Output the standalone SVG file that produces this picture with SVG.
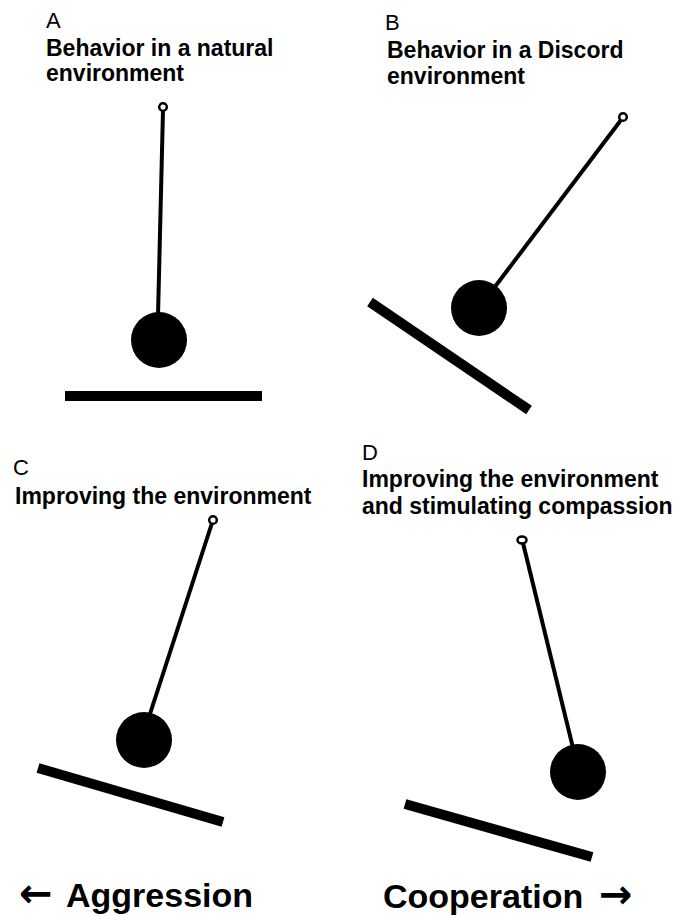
<svg xmlns="http://www.w3.org/2000/svg" width="673" height="916" viewBox="0 0 673 916">
<style>
.letter{font-family:"Liberation Sans",Arial,sans-serif;font-size:22px;fill:#000}
.cap{font-family:"Liberation Sans",Arial,sans-serif;font-size:23px;font-weight:bold;fill:#000}
.axis{font-family:"Liberation Sans",Arial,sans-serif;font-size:34px;font-weight:bold;fill:#000}
.arr{font-family:"DejaVu Sans",sans-serif;font-weight:bold;font-size:40px}
.rod{stroke:#000;stroke-width:4;fill:none}
.pivot{stroke:#000;stroke-width:2.5;fill:#fff}
.ball{fill:#000}
.base{stroke:#000;stroke-width:10;stroke-linecap:butt}
</style>
<rect width="673" height="916" fill="#fff"/>
<g id="panel-a">
<text class="letter" x="46" y="28">A</text>
<text class="cap" x="46" y="56">Behavior in a natural</text>
<text class="cap" x="46" y="81">environment</text>
<line class="rod" x1="163" y1="110" x2="158" y2="316"/>
<circle class="ball" cx="159" cy="340" r="28"/>
<circle class="pivot" cx="163" cy="107" r="3.8"/>
<line class="base" x1="65" y1="396" x2="262" y2="396"/>
</g>
<g id="panel-b">
<text class="letter" x="385" y="30">B</text>
<text class="cap" x="387" y="58">Behavior in a Discord</text>
<text class="cap" x="387" y="84">environment</text>
<line class="rod" x1="621" y1="120" x2="491" y2="292"/>
<circle class="ball" cx="479" cy="308" r="28"/>
<circle class="pivot" cx="623" cy="117" r="3.8"/>
<line class="base" x1="370" y1="302" x2="529" y2="410"/>
</g>
<g id="panel-c">
<text class="letter" x="13" y="475">C</text>
<text class="cap" x="15" y="504">Improving the environment</text>
<line class="rod" x1="212" y1="523" x2="148" y2="720"/>
<circle class="ball" cx="144" cy="740" r="28"/>
<circle class="pivot" cx="213" cy="520" r="3.8"/>
<line class="base" x1="38" y1="768" x2="223" y2="822"/>
</g>
<g id="panel-d">
<text class="letter" x="362" y="460">D</text>
<text class="cap" x="362" y="487">Improving the environment</text>
<text class="cap" x="362" y="514">and stimulating compassion</text>
<line class="rod" x1="523" y1="543" x2="574" y2="752"/>
<circle class="ball" cx="578" cy="772" r="28"/>
<ellipse class="pivot" cx="522" cy="540" rx="4.5" ry="3.5"/>
<line class="base" x1="405" y1="804" x2="592" y2="857"/>
</g>
<g id="axis">
<text class="axis" y="907"><tspan class="arr" x="19">← </tspan><tspan x="66">Aggression</tspan></text>
<text class="axis" y="908"><tspan x="383">Cooperation </tspan><tspan class="arr" x="599">→</tspan></text>
</g>
</svg>
